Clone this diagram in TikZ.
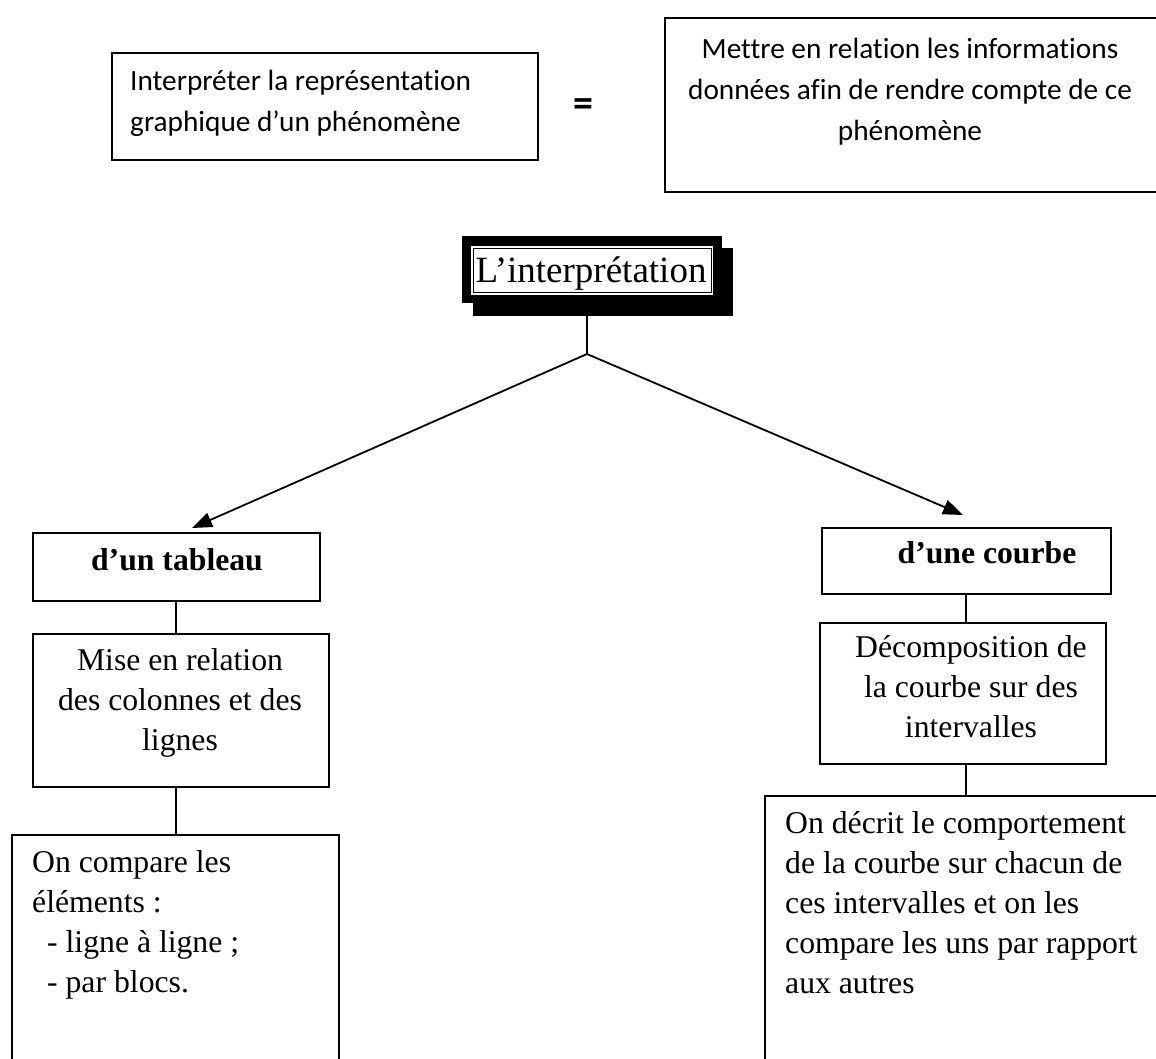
\documentclass[tikz,border=0pt]{standalone}
\usepackage{fontspec}
\setmainfont{Liberation Serif}
\newfontfamily\calib[Ligatures=NoCommon]{Carlito}
\usetikzlibrary{arrows.meta}
\begin{document}
\begin{tikzpicture}[x=1pt,y=-1pt,
  box/.style={draw, line width=1.7pt, inner sep=0, anchor=north west},
  conn/.style={line width=1.8pt},
  arr/.style={conn, -{Triangle[length=20pt,width=15pt]}},
  txt/.style={inner sep=0, font=\fontsize{31.7}{40}\selectfont},
  ctxt/.style={inner sep=0, font=\calib\fontsize{29.3}{41}\selectfont}]
\useasboundingbox (0,0) rectangle (1156,1059);
\clip (0,0) rectangle (1156,1059);
\fill[white] (0,0) rectangle (1156,1059);

% top row
\node[box, minimum width=426, minimum height=107] (b1) at (111,52) {};
\node[ctxt, align=left, anchor=north west] (t1) at (130,61.3)
  {\strut Interpréter la représentation\\\strut graphique d’un phénomène};
\node[inner sep=0, font=\calib\bfseries\fontsize{40}{44}\selectfont] (eq) at (583,108) {=};
\node[box, minimum width=520, minimum height=174] (b2) at (664,17) {};
\node[ctxt, align=center, anchor=north] (t2) at (910,29.3)
  {\strut Mettre en relation les informations\\\strut données afin de rendre compte de ce\\\strut phénomène};

% title with shadow
\node[fill=black, inner sep=0, anchor=north west, minimum width=260, minimum height=68] (interpsh) at (473,248) {};
\node[fill=black, inner sep=0, anchor=north west, minimum width=260, minimum height=67] (interpbg) at (462,236) {};
\node[fill=white, inner sep=0, anchor=north west, minimum width=242.5, minimum height=49] (interpw) at (470.5,245.5) {};
\node[draw, line width=1pt, inner sep=0, anchor=north west, minimum width=237.5, minimum height=44] (interp) at (473,248) {};
\node[inner sep=0, anchor=base, font=\fontsize{37}{44}\selectfont] (interpt) at (591,283) {L’interprétation};

% connectors from title
\coordinate (j) at (587,354);
\coordinate (tipL) at (192,528);
\coordinate (tipR) at (963,515);
\draw[conn] (j |- interpsh.south) -- (j);
\draw[arr] (j) -- (tipL);
\draw[arr] (j) -- (tipR);

% left column
\node[box, minimum width=287, minimum height=68] (tab) at (32,532) {};
\node[txt, anchor=base, font=\bfseries\fontsize{31.7}{40}\selectfont] (tabt) at (177,570) {d’un tableau};
\node[box, minimum width=296, minimum height=153] (rel) at (32,633) {};
\node[txt, align=center, anchor=north] (relt) at (180,642)
  {\strut Mise en relation\\\strut des colonnes et des\\\strut lignes};
\node[box, minimum width=327, minimum height=260] (comp) at (11,834) {};
\node[txt, align=left, anchor=north west] (compt) at (32,844)
  {\strut On compare les\\\strut éléments :\\\strut\hspace*{15pt}- ligne à ligne ;\\\strut\hspace*{15pt}- par blocs.};
\draw[conn] (tab.south) -- (tab.south |- rel.north);
\draw[conn] (rel.south -| tab.south) -- (comp.north -| tab.south);

% right column
\node[box, minimum width=289, minimum height=66] (crb) at (821,527) {};
\node[txt, anchor=base, font=\bfseries\fontsize{31.7}{40}\selectfont] (crbt) at (987,563) {d’une courbe};
\node[box, minimum width=286, minimum height=141] (dec) at (819,622) {};
\node[txt, align=center, anchor=north] (dect) at (971,629)
  {\strut Décomposition de\\\strut la courbe sur des\\\strut intervalles};
\node[box, minimum width=420, minimum height=300] (decr) at (764,795) {};
\node[txt, align=left, anchor=north west] (decrt) at (785,805)
  {\strut On décrit le comportement\\\strut de la courbe sur chacun de\\\strut ces intervalles et on les\\\strut compare les uns par rapport\\\strut aux autres};
\draw[conn] (crb.south) -- (crb.south |- dec.north);
\draw[conn] (dec.south -| crb.south) -- (decr.north -| crb.south);
\end{tikzpicture}
\end{document}
